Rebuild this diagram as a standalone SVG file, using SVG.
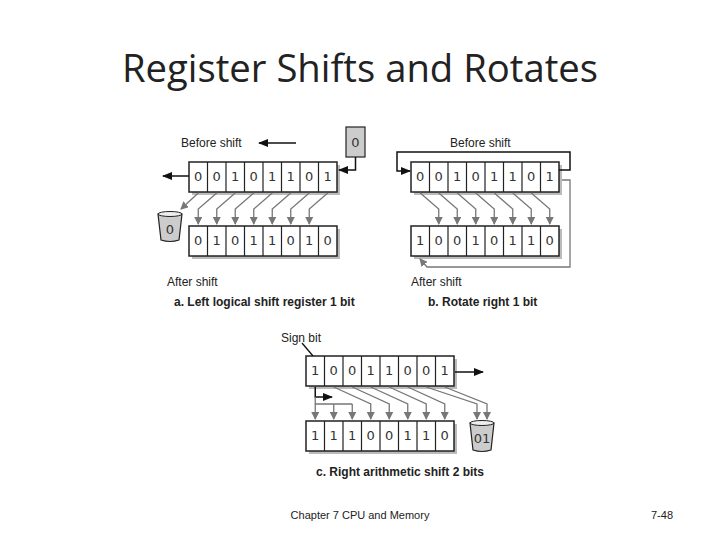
<svg xmlns="http://www.w3.org/2000/svg" width="720" height="540" viewBox="0 0 720 540">
<style>
.t{font-family:"Liberation Sans",Arial,sans-serif;fill:#222}
.lbl{font-size:12px}
.cap{font-size:12px;font-weight:bold}
.bit{font-family:"DejaVu Sans",sans-serif;font-size:13px;fill:#333;text-anchor:middle}
.reg{fill:#fff;stroke:#222;stroke-width:1.5}
.sh{fill:#bbb}
.div{stroke:#222;stroke-width:1.2}
.g{fill:none;stroke:#777;stroke-width:1.3;marker-end:url(#ga)}
.k{fill:none;stroke:#111;stroke-width:1.5;marker-end:url(#ka)}
.gl{fill:none;stroke:#777;stroke-width:1.3}
.bucket{fill:#ccc;stroke:#222;stroke-width:1.2}
</style>
<defs>
<marker id="ga" markerWidth="8" markerHeight="8" refX="7" refY="4" orient="auto" markerUnits="userSpaceOnUse"><path d="M0,0 L8,4 L0,8 z" fill="#777"/></marker>
<marker id="ka" markerWidth="10" markerHeight="8" refX="9" refY="4" orient="auto" markerUnits="userSpaceOnUse"><path d="M0,0 L10,4 L0,8 z" fill="#111"/></marker>
<g id="cells">
<rect class="sh" x="3" y="3" width="148" height="30"/>
<rect class="reg" x="0" y="0" width="148" height="30"/>
<path class="div" d="M18.5,0V30M37,0V30M55.5,0V30M74,0V30M92.5,0V30M111,0V30M129.5,0V30"/>
</g>
</defs>
<rect width="720" height="540" fill="#fff"/>
<text class="t" x="360" y="82" font-size="38" text-anchor="middle" textLength="476" lengthAdjust="spacingAndGlyphs" style="font-family:'Open Sans','Liberation Sans',sans-serif;font-weight:normal">Register Shifts and Rotates</text>

<g id="partA">
<use href="#cells" x="189" y="162"/>
<g class="bit">
<text x="198.25" y="181">0</text><text x="216.75" y="181">0</text><text x="235.25" y="181">1</text><text x="253.75" y="181">0</text><text x="272.25" y="181">1</text><text x="290.75" y="181">1</text><text x="309.25" y="181">0</text><text x="327.75" y="181">1</text>
</g>
<use href="#cells" x="189" y="226"/>
<g class="bit">
<text x="198.25" y="245">0</text><text x="216.75" y="245">1</text><text x="235.25" y="245">0</text><text x="253.75" y="245">1</text><text x="272.25" y="245">1</text><text x="290.75" y="245">0</text><text x="309.25" y="245">1</text><text x="327.75" y="245">0</text>
</g>
<rect x="346" y="127" width="19" height="30" fill="#ccc" stroke="#222" stroke-width="1.2"/>
<text class="bit" x="355.5" y="147">0</text>
<path class="bucket" d="M158,214 L182,214 L179,240 Q170,243 161,240 Z"/>
<ellipse cx="170" cy="214" rx="12" ry="2.5" fill="#eee" stroke="#222" stroke-width="1"/>
<text class="bit" x="170" y="234">0</text>
<text class="t lbl" x="181" y="147">Before shift</text>
<text class="t lbl" x="167" y="286">After shift</text>
<text class="t cap" x="174" y="306">a. Left logical shift register 1 bit</text>
</g>

<g id="partB">
<use href="#cells" x="411" y="162"/>
<g class="bit">
<text x="420.25" y="181">0</text><text x="438.75" y="181">0</text><text x="457.25" y="181">1</text><text x="475.75" y="181">0</text><text x="494.25" y="181">1</text><text x="512.75" y="181">1</text><text x="531.25" y="181">0</text><text x="549.75" y="181">1</text>
</g>
<use href="#cells" x="411" y="226"/>
<g class="bit">
<text x="420.25" y="245">1</text><text x="438.75" y="245">0</text><text x="457.25" y="245">0</text><text x="475.75" y="245">1</text><text x="494.25" y="245">0</text><text x="512.75" y="245">1</text><text x="531.25" y="245">1</text><text x="549.75" y="245">0</text>
</g>
<text class="t lbl" x="450" y="147">Before shift</text>
<text class="t lbl" x="411" y="286">After shift</text>
<text class="t cap" x="428" y="306">b. Rotate right 1 bit</text>
</g>

<g id="partC">
<use href="#cells" x="306" y="356"/>
<g class="bit">
<text x="315.25" y="375">1</text><text x="333.75" y="375">0</text><text x="352.25" y="375">0</text><text x="370.75" y="375">1</text><text x="389.25" y="375">1</text><text x="407.75" y="375">0</text><text x="426.25" y="375">0</text><text x="444.75" y="375">1</text>
</g>
<use href="#cells" x="306" y="421"/>
<g class="bit">
<text x="315.25" y="440">1</text><text x="333.75" y="440">1</text><text x="352.25" y="440">1</text><text x="370.75" y="440">0</text><text x="389.25" y="440">0</text><text x="407.75" y="440">1</text><text x="426.25" y="440">1</text><text x="444.75" y="440">0</text>
</g>
<path class="bucket" d="M470,423 L494,423 L491,450 Q482,453 473,450 Z"/>
<ellipse cx="482" cy="423" rx="12" ry="2.5" fill="#eee" stroke="#222" stroke-width="1"/>
<text class="bit" x="482" y="443">01</text>
<text class="t lbl" x="281" y="342">Sign bit</text>
<text class="t cap" x="316" y="476">c. Right arithmetic shift 2 bits</text>
</g>

<g id="connectors">
<!-- A -->
<path class="k" d="M296,143 H259"/>
<path class="k" d="M355.5,157 V170 H339"/>
<path class="k" d="M189,176 H163"/>
<path class="g" d="M198.25,193 L181,209"/>
<path class="g" d="M216.75,193 L198.25,209 V224"/>
<path class="g" d="M235.25,193 L216.75,209 V224"/>
<path class="g" d="M253.75,193 L235.25,209 V224"/>
<path class="g" d="M272.25,193 L253.75,209 V224"/>
<path class="g" d="M290.75,193 L272.25,209 V224"/>
<path class="g" d="M309.25,193 L290.75,209 V224"/>
<path class="g" d="M327.75,193 L309.25,209 V224"/>
<!-- B -->
<path class="k" d="M559,170 H570 V152 H397 V171 H410"/>
<path class="g" d="M562,180 H570 V267 H427 L420,259"/>
<path class="g" d="M420.25,193 L438.75,209 V224"/>
<path class="g" d="M438.75,193 L457.25,209 V224"/>
<path class="g" d="M457.25,193 L475.75,209 V224"/>
<path class="g" d="M475.75,193 L494.25,209 V224"/>
<path class="g" d="M494.25,193 L512.75,209 V224"/>
<path class="g" d="M512.75,193 L531.25,209 V224"/>
<path class="g" d="M531.25,193 L549.75,209 V224"/>
<!-- C -->
<path d="M302,343 L313,356" stroke="#111" stroke-width="1.3" fill="none"/>
<path class="k" d="M455,372 H483"/>
<path class="k" d="M315.25,387 V397 H332"/>
<path class="gl" d="M315.25,397 V404 H352.25"/>
<path class="g" d="M315.25,404 V419"/>
<path class="g" d="M333.75,404 V419"/>
<path class="g" d="M352.25,404 V419"/>
<path class="g" d="M333.75,387 L370.75,404 V419"/>
<path class="g" d="M352.25,387 L389.25,404 V419"/>
<path class="g" d="M370.75,387 L407.75,404 V419"/>
<path class="g" d="M389.25,387 L426.25,404 V419"/>
<path class="g" d="M407.75,387 L444.75,404 V419"/>
<path class="g" d="M426.25,387 L477,404 V419"/>
<path class="g" d="M444.75,387 L487,404 V419"/>
</g>

<text class="t" x="360" y="519" font-size="11" text-anchor="middle" fill="#555">Chapter 7 CPU and Memory</text>
<text class="t" x="662" y="519" font-size="11" text-anchor="middle" fill="#555">7-48</text>
</svg>
